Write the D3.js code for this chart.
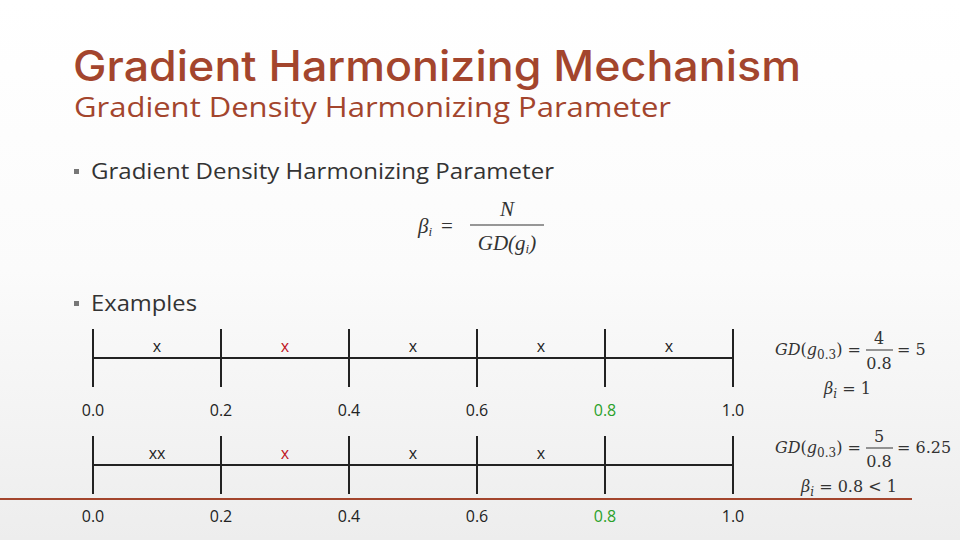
<!DOCTYPE html><html><head><meta charset="utf-8">
<script src="https://cdn.jsdelivr.net/npm/d3@7"></script>
<style>body{margin:0}svg{display:block}</style></head><body><svg id="s" width="960" height="540"></svg>
<script>
const tickLabels=["0.0","0.2","0.4","0.6","0.8","1.0"];
const tickValues=[0,0.2,0.4,0.6,0.8,1.0];
const row1Marks=[{v:0.1,t:"x"},{v:0.3,t:"x"},{v:0.5,t:"x"},{v:0.7,t:"x"},{v:0.9,t:"x"}];
const row2Marks=[{v:0.1,t:"xx"},{v:0.3,t:"x"},{v:0.5,t:"x"},{v:0.7,t:"x"}];
const highlightMark=0.3, highlightTick=0.8;

const svg=d3.select("#s");
const defs=svg.append("defs");
const g=defs.append("linearGradient").attr("id","bg").attr("x1",0).attr("y1",0).attr("x2",0).attr("y2",1);
g.append("stop").attr("offset","0").attr("stop-color","#ffffff");
g.append("stop").attr("offset","0.5").attr("stop-color","#fbfbfb");
g.append("stop").attr("offset","1").attr("stop-color","#ededed");
svg.append("rect").attr("width",960).attr("height",540).attr("fill","url(#bg)");
const brown="#a3452d", sans="'Open Sans','Noto Sans',sans-serif";
svg.append("text").attr("x",73).attr("y",81).attr("font-family","Inter,'Noto Sans',sans-serif").attr("font-weight",500).attr("font-size",42).attr("fill",brown).attr("textLength",728).attr("lengthAdjust","spacingAndGlyphs").text("Gradient Harmonizing Mechanism");
svg.append("text").attr("x",74).attr("y",117).attr("font-family",sans).attr("font-size",28).attr("fill",brown).attr("textLength",597).attr("lengthAdjust","spacingAndGlyphs").text("Gradient Density Harmonizing Parameter");
function bullet(y,t,len){
  svg.append("rect").attr("x",74).attr("y",y-10).attr("width",5).attr("height",5).attr("fill","#777");
  svg.append("text").attr("x",91).attr("y",y).attr("font-family",sans).attr("font-size",22).attr("fill","#333").attr("textLength",len).attr("lengthAdjust","spacingAndGlyphs").text(t);
}
bullet(179,"Gradient Density Harmonizing Parameter",463);
bullet(311,"Examples",106);
const serif="'DejaVu Serif','Liberation Serif',serif";
const f=svg.append("g").attr("font-family","'Liberation Serif',serif").attr("font-style","italic").attr("fill","#333").attr("font-size",21);
f.append("text").attr("x",418).attr("y",233).html('β<tspan font-size="13" dy="3">i</tspan>');
f.append("text").attr("x",441).attr("y",233).attr("font-style","normal").text("=");
f.append("text").attr("x",507).attr("y",216).attr("text-anchor","middle").text("N");
f.append("line").attr("x1",470).attr("x2",544).attr("y1",225).attr("y2",225).attr("stroke","#333").attr("stroke-width",1.2);
f.append("text").attr("x",507).attr("y",250).attr("text-anchor","middle").html('GD(g<tspan font-size="13" dy="3">i</tspan><tspan dy="-3">)</tspan>');

const x=d3.scaleLinear().domain([0,1]).range([93,733]);
function row(ly,marks,labY){
  const r=svg.append("g");
  r.append("line").attr("x1",x(0)).attr("x2",x(1)).attr("y1",ly).attr("y2",ly).attr("stroke","#222").attr("stroke-width",2);
  r.selectAll(".t").data(tickValues).join("line").attr("x1",d=>x(d)).attr("x2",d=>x(d)).attr("y1",ly-29).attr("y2",ly+29).attr("stroke","#222").attr("stroke-width",2);
  r.selectAll(".m").data(marks).join("text").attr("x",d=>x(d.v)).attr("y",ly-6).attr("text-anchor","middle").attr("font-family",sans).attr("font-size",16).attr("fill",d=>d.v===highlightMark?"#c0141e":"#222").text(d=>d.t);
  r.selectAll(".l").data(tickValues).join("text").attr("x",d=>x(d)).attr("y",labY).attr("text-anchor","middle").attr("font-family",sans).attr("font-size",16).attr("fill",d=>d===highlightTick?"#2aa12a":"#222").text((d,i)=>tickLabels[i]);
}
row(358,row1Marks,416);
row(465,row2Marks,522);
svg.append("line").attr("x1",0).attr("x2",912).attr("y1",499).attr("y2",499).attr("stroke",brown).attr("stroke-width",2);

function gdf(y,num,res,beta,bx){
  const t=svg.append("g").attr("font-family",serif).attr("fill","#333").attr("font-size",16);
  t.append("text").attr("x",775).attr("y",y).html('<tspan font-style="italic">GD</tspan>(<tspan font-style="italic">g</tspan><tspan font-size="12" dy="4">0.3</tspan><tspan dy="-4">) =</tspan>');
  t.append("text").attr("x",879).attr("y",y-11).attr("text-anchor","middle").text(num);
  t.append("line").attr("x1",866).attr("x2",893).attr("y1",y-5).attr("y2",y-5).attr("stroke","#333");
  t.append("text").attr("x",879).attr("y",y+14).attr("text-anchor","middle").text("0.8");
  t.append("text").attr("x",897).attr("y",y).text("= "+res);
  t.append("text").attr("x",bx).attr("y",y+39).html('<tspan font-style="italic">β</tspan><tspan font-size="12" dy="4" font-style="italic">i</tspan><tspan dy="-4"> = '+beta+'</tspan>');
}
gdf(355,"4","5","1",824);
gdf(453,"5","6.25","0.8 &lt; 1",801);
</script></body></html>
